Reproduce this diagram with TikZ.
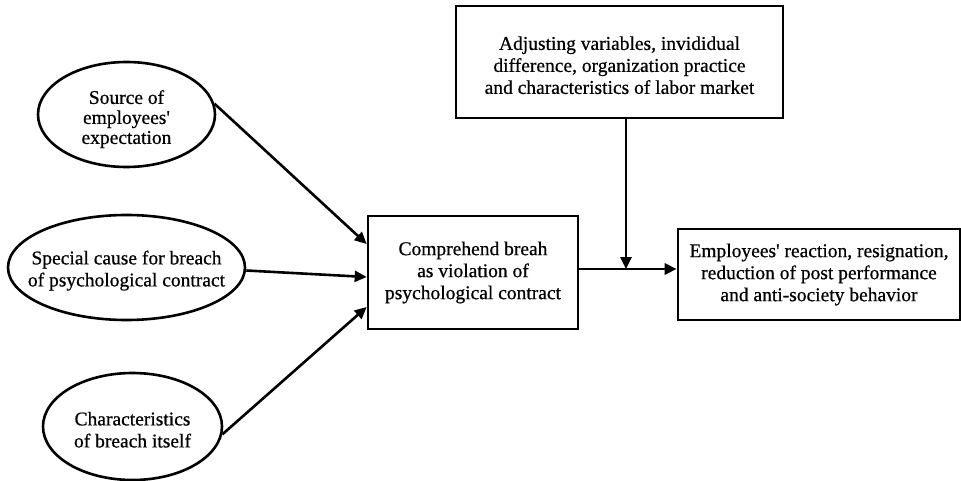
\documentclass[tikz,border=0pt]{standalone}
\usepackage{fontspec}
\setmainfont{Liberation Serif}[FakeBold=0.6]
\usetikzlibrary{shapes.geometric,arrows.meta,calc}
\begin{document}
\begin{tikzpicture}[x=1pt,y=-1pt,
  every node/.style={font=\fontsize{19.5}{22}\selectfont, align=center, line width=2.6pt, inner sep=0pt},
  oval/.style={draw, ellipse},
  box/.style={draw, rectangle},
  conn/.style={line width=2.6pt, -{Triangle[length=12pt,width=11pt]}},
  plain/.style={line width=2.6pt}
]
\useasboundingbox (0,0) rectangle (961,481);
\node[oval, minimum width=177pt, minimum height=105pt, font=\fontsize{19.5}{20}\selectfont] (e1) at (126.5,114.5) {\rule{0pt}{23pt}Source of\\employees\textquotesingle\\expectation};
\node[oval, minimum width=237pt, minimum height=105pt, inner xsep=-20pt] (e2) at (126.5,267.5) {\rule{0pt}{20pt}Special cause for breach\\of psychological contract};
\node[oval, minimum width=179pt, minimum height=107pt] (e3) at (132.5,426.5) {\rule{0pt}{20pt}Characteristics\\of breach itself};
\node[box, minimum width=210pt, minimum height=113pt] (c) at (473,272.5) {Comprehend breah\\as violation of\\psychological contract};
\node[box, minimum width=327pt, minimum height=112pt] (t) at (619.5,62) {\rule{0pt}{20pt}Adjusting variables, invididual\\difference, organization practice\\and characteristics of labor market};
\node[box, minimum width=282pt, minimum height=91pt] (r) at (819,274.5) {Employees\textquotesingle{} reaction, resignation,\\reduction of post performance\\and anti-society behavior};
\coordinate (j) at (626,269);
\draw[conn] (e1.7) -- ([yshift=28.5pt]c.west);
\draw[conn] ([yshift=-3pt]e2.east) -- ([yshift=-4.5pt]c.west);
\draw[conn] (e3.-5) -- ([yshift=-34.5pt]c.west);
\draw[plain] (c.east |- j) -- (j);
\draw[conn] (j) -- (r.west |- j);
\draw[conn] (t.south -| j) -- (j);
\end{tikzpicture}
\end{document}
